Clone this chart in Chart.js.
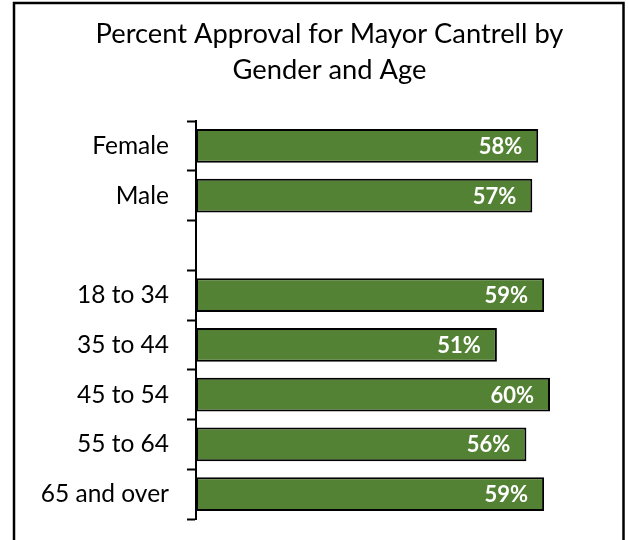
<!DOCTYPE html>
<html>
<head>
<meta charset="utf-8">
<script src="https://cdn.jsdelivr.net/npm/chart.js@4"></script>
<style>
  html, body { margin: 0; padding: 0; background: #fff; }
  #wrap { width: 628px; height: 540px; }
</style>
</head>
<body>
<div id="wrap"><canvas id="approval" width="628" height="540"></canvas></div>
<script>
// categories, blank row separates gender from age groups
var categories = ["Female", "Male", "", "18 to 34", "35 to 44", "45 to 54", "55 to 64", "65 and over"];
var approval = [58, 57, null, 59, 51, 60, 56, 59];
var titleLines = ["Percent Approval for Mayor Cantrell by", "Gender and Age"];

var FONT = "Lato, 'Open Sans', sans-serif";

// outer frame like the spreadsheet chart border
var framePlugin = {
  id: "frame",
  afterLayout: function (chart) {
    // title sits a bit right of centre in the original
    if (chart.titleBlock) chart.titleBlock.left = 50;
  },
  afterDraw: function (chart) {
    var ctx = chart.ctx;
    ctx.save();
    ctx.strokeStyle = "#000";
    ctx.lineWidth = 2.5;
    ctx.strokeRect(14, 3, 609.5, 560);
    ctx.restore();
  },
};

// white value labels inside the end of each bar
var valueLabels = {
  id: "valueLabels",
  afterDatasetsDraw: function (chart) {
    var ctx = chart.ctx;
    var meta = chart.getDatasetMeta(0);
    ctx.save();
    ctx.font = "bold 22px " + FONT;
    ctx.fillStyle = "#fff";
    ctx.textAlign = "right";
    ctx.textBaseline = "middle";
    meta.data.forEach(function (bar, i) {
      var v = approval[i];
      if (v === null) return;
      ctx.fillText(v + "%", bar.x - 16, bar.y + 1);
    });
    ctx.restore();
  },
};

new Chart(document.getElementById("approval").getContext("2d"), {
  type: "bar",
  data: {
    labels: categories,
    datasets: [
      {
        data: approval,
        backgroundColor: "#548235",
        borderColor: "#000",
        borderWidth: 2,
        borderSkipped: false,
        barPercentage: 0.68,
        categoryPercentage: 1,
      },
    ],
  },
  options: {
    indexAxis: "y",
    responsive: false,
    animation: false,
    layout: { padding: { top: 16, left: 14, right: 19, bottom: 21 } },
    plugins: {
      legend: { display: false },
      tooltip: { enabled: false },
      title: {
        display: true,
        text: titleLines,
        color: "#000",
        font: { family: FONT, size: 27.3, weight: "normal", lineHeight: 1.32 },
        padding: { top: 0, bottom: 33 },
      },
    },
    scales: {
      x: { display: false, min: 0, max: 70 },
      y: {
        afterFit: function (scale) {
          scale.width = 182;
          scale.paddingTop = 0;
          scale.paddingBottom = 0;
        },
        border: { display: true, color: "#000", width: 2 },
        grid: {
          display: true,
          offset: true,
          drawOnChartArea: false,
          drawTicks: true,
          tickLength: 9,
          tickWidth: 2,
          color: "#000",
        },
        ticks: {
          color: "#000",
          padding: 18,
          font: { family: FONT, size: 24.5 },
        },
      },
    },
  },
  plugins: [framePlugin, valueLabels],
});
</script>
</body>
</html>
